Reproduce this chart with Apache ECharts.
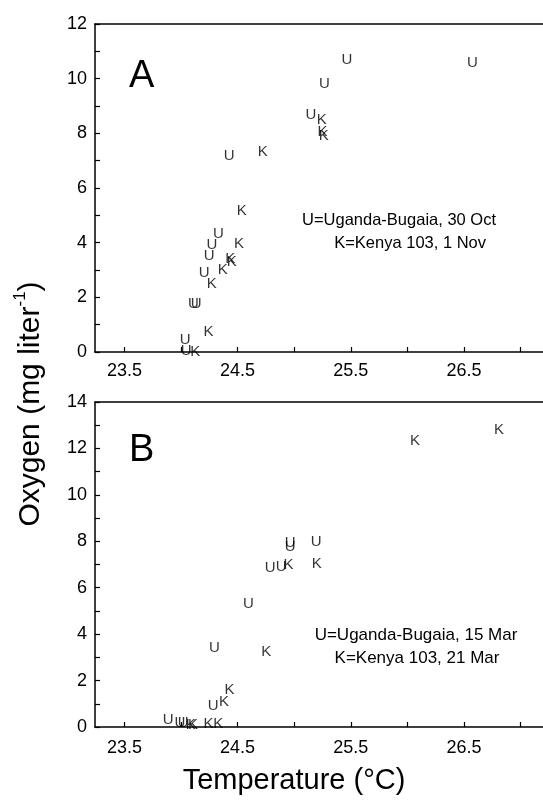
<!DOCTYPE html>
<html>
<head>
<meta charset="utf-8">
<script src="https://cdn.jsdelivr.net/npm/echarts@6/dist/echarts.min.js"></script>
<style>
html,body{margin:0;padding:0;background:#fff;}
#c{width:543px;height:804px;}
</style>
</head>
<body>
<div id="c"></div>
<script>
// Panel A (U = Uganda-Bugaia 30 Oct, K = Kenya 103 1 Nov): [temperature, oxygen]
var panelA_U = [[25.465,10.68],[26.574,10.59],[25.267,9.81],[25.147,8.66],[24.425,7.18],[24.330,4.34],[24.272,3.93],[24.248,3.52],[24.204,2.91],[24.110,1.77],[24.134,1.77],[24.036,0.43],[24.045,0.03]];
var panelA_K = [[25.244,8.51],[25.250,8.05],[25.260,7.90],[24.722,7.34],[24.537,5.16],[24.513,3.97],[24.434,3.42],[24.449,3.28],[24.369,3.02],[24.272,2.48],[24.242,0.73],[24.125,0.00]];
// Panel B (U = Uganda-Bugaia 15 Mar, K = Kenya 103 21 Mar)
var panelB_U = [[24.964,7.94],[24.964,7.78],[25.193,7.97],[24.787,6.87],[24.884,6.90],[24.596,5.32],[24.296,3.41],[24.285,0.89],[23.886,0.29],[23.990,0.17],[24.020,0.17]];
var panelB_K = [[26.068,12.33],[26.810,12.79],[24.949,6.98],[25.200,7.04],[24.752,3.22],[24.428,1.60],[24.380,1.07],[24.085,0.10],[24.105,0.10],[24.242,0.15],[24.330,0.15]];
var xTicks = [23.5,24,24.5,25,25.5,26,26.5,27];
var xTickLabels = [23.5,24.5,25.5,26.5];

var FONT = '"Liberation Sans", Arial, Helvetica, sans-serif';
var XMIN = 23.24, XMAX = 27.198;
var chart = echarts.init(document.getElementById('c'), null, {renderer:'canvas'});

function xAxisDef(gi, margin){
  return {
    type:'value', gridIndex:gi, min:XMIN, max:XMAX,
    axisLine:{show:true, onZero:false, lineStyle:{color:'#000', width:1.5}},
    axisTick:{show:true, inside:true, length:5, customValues:xTicks, lineStyle:{color:'#000', width:1.2}},
    axisLabel:{show:true, customValues:xTickLabels, fontSize:18, color:'#000', fontFamily:FONT, margin:margin,
               formatter:function(v){return v.toFixed(1);}},
    splitLine:{show:false}
  };
}
function topAxisDef(gi){
  return {
    type:'value', gridIndex:gi, min:XMIN, max:XMAX, position:'top',
    axisLine:{show:true, onZero:false, lineStyle:{color:'#000', width:1.5}},
    axisTick:{show:false}, axisLabel:{show:false}, splitLine:{show:false}
  };
}
function yAxisDef(gi, max){
  return {
    type:'value', gridIndex:gi, min:0, max:max, interval:1,
    axisLine:{show:true, onZero:false, lineStyle:{color:'#000', width:1.5}},
    axisTick:{show:true, inside:true, length:5, lineStyle:{color:'#000', width:1.2}},
    axisLabel:{show:true, fontSize:18, color:'#000', fontFamily:FONT, margin:8,
               formatter:function(v){return (Math.round(v)%2===0)?String(v):'';}},
    splitLine:{show:false}
  };
}
function letterSeries(data, letter, gi){
  return {
    type:'scatter', xAxisIndex:gi, yAxisIndex:gi, data:data,
    symbol:'circle', symbolSize:1, itemStyle:{color:'rgba(0,0,0,0)'},
    silent:true,
    label:{show:true, position:'inside', formatter:letter, fontSize:15, color:'#000', fontFamily:FONT},
    emphasis:{disabled:true}
  };
}

chart.setOption({
  animation:false,
  backgroundColor:'#fff',
  grid:[
    {left:95, top:24, right:0, height:328},
    {left:95, top:402, right:0, height:325}
  ],
  xAxis:[xAxisDef(0,10), xAxisDef(1,12), topAxisDef(0), topAxisDef(1)],
  yAxis:[yAxisDef(0,12), yAxisDef(1,14)],
  series:[
    letterSeries(panelA_U,'U',0), letterSeries(panelA_K,'K',0),
    letterSeries(panelB_U,'U',1), letterSeries(panelB_K,'K',1)
  ],
  graphic:[
    {type:'text', left:129, top:58, style:{text:'A', fontSize:38, fontFamily:FONT, fill:'#000'}},
    {type:'text', left:129, top:432, style:{text:'B', fontSize:38, fontFamily:FONT, fill:'#000'}},
    {type:'text', x:496, y:220, style:{text:'U=Uganda-Bugaia, 30 Oct', fontSize:16.5, fontFamily:FONT, fill:'#000', textAlign:'right', textVerticalAlign:'middle'}},
    {type:'text', x:486, y:243, style:{text:'K=Kenya 103, 1 Nov', fontSize:16.5, fontFamily:FONT, fill:'#000', textAlign:'right', textVerticalAlign:'middle'}},
    {type:'text', x:416, y:635, style:{text:'U=Uganda-Bugaia, 15 Mar', fontSize:17, fontFamily:FONT, fill:'#000', textAlign:'center', textVerticalAlign:'middle'}},
    {type:'text', x:417, y:658, style:{text:'K=Kenya 103, 21 Mar', fontSize:17, fontFamily:FONT, fill:'#000', textAlign:'center', textVerticalAlign:'middle'}},
    {type:'text', x:294, y:781, style:{text:'Temperature (°C)', fontSize:29, fontFamily:FONT, fill:'#000', textAlign:'center', textVerticalAlign:'middle'}},
    {type:'text', x:29, y:404, rotation:Math.PI/2,
     style:{text:'{a|Oxygen (mg liter}{s|-1}{a|)}', textAlign:'center', textVerticalAlign:'middle', fill:'#000',
            rich:{a:{fontSize:30, fontFamily:FONT, lineHeight:34, verticalAlign:'bottom'},
                  s:{fontSize:17, fontFamily:FONT, lineHeight:34, verticalAlign:'top'}}}}
  ]
});
</script>
</body>
</html>
